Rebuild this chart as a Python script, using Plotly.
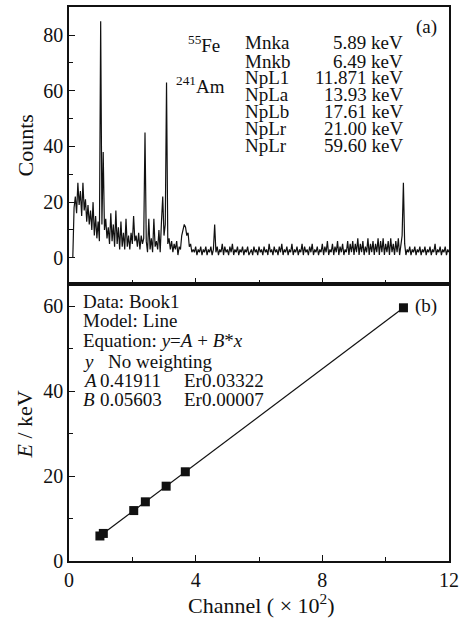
import plotly.graph_objects as go

# ---------------- data ----------------
# spectrum (panel a): channel numbers start at 12, step 4 channels
spec_start = 12
spec_step = 4
counts = [
    0, 18, 22, 16, 27, 19, 24, 15, 27, 17,
    21, 13, 19, 12, 17, 10, 20, 8, 15, 7,
    13, 6, 85, 12, 38, 10, 14, 7, 11, 5,
    16, 6, 12, 4, 17, 5, 11, 3, 13, 4,
    9, 3, 14, 4, 8, 3, 9, 5, 15, 6,
    8, 4, 9, 3, 8, 5, 7, 45, 6, 2,
    14, 3, 7, 2, 14, 4, 6, 3, 10, 2,
    13, 22, 8, 12, 63, 5, 7, 3, 6, 2,
    5, 3, 6, 1, 4, 3, 8, 10, 12, 11,
    8, 9, 4, 5, 2, 3, 2, 4, 1, 3,
    2, 4, 1, 3, 2, 4, 1, 3, 2, 4,
    1, 3, 12, 2, 4, 1, 3, 2, 5, 1,
    4, 2, 3, 1, 4, 2, 5, 1, 3, 2,
    4, 1, 3, 2, 4, 1, 3, 2, 4, 1,
    2, 3, 1, 4, 2, 3, 1, 4, 2, 3,
    1, 4, 2, 3, 1, 5, 2, 3, 1, 4,
    2, 3, 1, 4, 2, 5, 1, 3, 2, 4,
    1, 3, 2, 5, 1, 3, 2, 4, 1, 3,
    2, 5, 1, 4, 2, 3, 1, 4, 2, 5,
    1, 3, 2, 4, 1, 3, 2, 5, 1, 4,
    2, 6, 1, 3, 2, 5, 1, 4, 2, 6,
    1, 4, 2, 5, 1, 3, 2, 6, 1, 5,
    2, 6, 1, 5, 2, 7, 1, 5, 2, 6,
    1, 4, 2, 7, 1, 5, 2, 6, 1, 5,
    2, 7, 1, 6, 2, 7, 1, 5, 2, 6,
    1, 7, 2, 5, 1, 6, 2, 7, 1, 4,
    8, 27, 5, 1, 3, 2, 4, 1, 3, 2,
    4, 1, 3, 2, 4, 1, 3, 2, 4, 1,
    3, 2, 4, 1, 3, 2, 5, 1, 3, 2,
    4, 1, 3, 2, 4, 1, 3, 2,
]
channels_x100 = [(spec_start + spec_step * i) / 100 for i in range(len(counts))]

# calibration (panel b)
cal_channel_x100 = [0.976, 1.084, 2.044, 2.411, 3.068, 3.673, 10.562]
line_names = ["Mnka", "Mnkb", "NpL1", "NpLa", "NpLb", "NpLr", "NpLr"]
energy_labels = ["5.89", "6.49", "11.871", "13.93", "17.61", "21.00", "59.60"]
cal_energy = [float(e) for e in energy_labels]
fit_A = 0.41911
fit_B = 0.05603
fit_A_err = "0.03322"
fit_B_err = "0.00007"

fit_x = [min(cal_channel_x100), max(cal_channel_x100)]
fit_y = [fit_A + fit_B * x * 100 for x in fit_x]

# ---------------- layout helpers ----------------
W, H = 468, 618
L, R, T, B = 69, 449, 5, 561


def px(xp):
    return (xp - L) / (R - L)


def py(yp):
    return (B - yp) / (B - T)


FONT = "Liberation Serif"
BLACK = "#111111"

fig = go.Figure()
fig.add_trace(go.Scatter(x=channels_x100, y=counts, mode="lines",
                         line=dict(color=BLACK, width=1.2), xaxis="x2", yaxis="y2",
                         showlegend=False, hoverinfo="skip"))
fig.add_trace(go.Scatter(x=fit_x, y=fit_y, mode="lines",
                         line=dict(color=BLACK, width=1.2), xaxis="x", yaxis="y",
                         showlegend=False))
fig.add_trace(go.Scatter(x=cal_channel_x100, y=cal_energy, mode="markers",
                         marker=dict(symbol="square", size=9, color=BLACK),
                         xaxis="x", yaxis="y", showlegend=False))

axis_common = dict(showline=True, linecolor=BLACK, linewidth=1.5, mirror=True,
                   ticks="inside", ticklen=6, tickwidth=1.2, tickcolor=BLACK,
                   showgrid=False, zeroline=False,
                   tickfont=dict(family=FONT, size=20, color=BLACK))

fig.update_layout(
    width=W, height=H,
    margin=dict(l=L, r=W - R, t=T, b=H - B),
    paper_bgcolor="white", plot_bgcolor="white",
    font=dict(family=FONT, color=BLACK),
    xaxis=dict(axis_common, domain=[0, 1], anchor="y", range=[0, 12],
               tickvals=[0, 4, 8, 12],
               minor=dict(ticks="inside", ticklen=4, tickcolor=BLACK, dtick=2, tick0=0)),
    yaxis=dict(axis_common, domain=[0, 0.5], anchor="x", range=[0, 65.2],
               tickvals=[0, 20, 40, 60],
               minor=dict(ticks="inside", ticklen=4, tickcolor=BLACK, dtick=10, tick0=0)),
    xaxis2=dict(axis_common, domain=[0, 1], anchor="y2", range=[0, 12],
                matches="x", showticklabels=False, tickvals=[0, 4, 8, 12],
                minor=dict(ticks="inside", ticklen=4, tickcolor=BLACK, dtick=2, tick0=0)),
    yaxis2=dict(axis_common, domain=[0.5, 1], anchor="x2", range=[-9.4, 90.1],
                tickvals=[0, 20, 40, 60, 80],
                minor=dict(ticks="inside", ticklen=4, tickcolor=BLACK, dtick=10, tick0=0)),
)

ann = []
TS = 19


def add(text, xp, yp, xanchor="left", size=TS, angle=0):
    ann.append(dict(text=text, x=px(xp), y=py(yp), xref="paper", yref="paper",
                    xanchor=xanchor, yanchor="middle", showarrow=False,
                    textangle=angle, font=dict(family=FONT, size=size, color=BLACK)))


# axis titles
add("Counts", 25, 144, xanchor="center", size=22, angle=-90)
add("<i>E</i> / keV", 24, 424, xanchor="center", size=22, angle=-90)
add("Channel ( × 10<sup>2</sup>)", 261, 604, xanchor="center", size=22)

# panel labels
add("(a)", 426, 25, xanchor="center")
add("(b)", 426, 305, xanchor="center")

# panel (a) texts
add("<sup>55</sup>Fe", 186, 42)
add("<sup>241</sup>Am", 174, 83)
row_y = [41, 60, 76, 93, 110, 127, 144]
for name, lab, yy in zip(line_names, energy_labels, row_y):
    add(name, 243, yy, xanchor="left", size=19)
    add(f"{lab} keV", 405, yy, xanchor="right", size=19)

# panel (b) texts
info_lines = [
    "Data: Book1",
    "Model: Line",
    "Equation: <i>y</i>=<i>A</i> + <i>B</i>*<i>x</i>",
]
info_y = [301, 320, 340]
for t, yy in zip(info_lines, info_y):
    add(t, 81, yy)
# aligned parameter table
add("<i>y</i>", 81, 361)
add("No weighting", 106, 361)
add("<i>A</i>", 81, 380)
add(f"{fit_A:.5f}", 98, 380)
add(f"Er{fit_A_err}", 182, 380)
add("<i>B</i>", 81, 399)
add(f"{fit_B:.5f}", 98, 399)
add(f"Er{fit_B_err}", 182, 399)

fig.update_layout(annotations=ann)
fig.write_html("out.html", config={"displayModeBar": False},
               post_script="document.body.style.margin='0';")
